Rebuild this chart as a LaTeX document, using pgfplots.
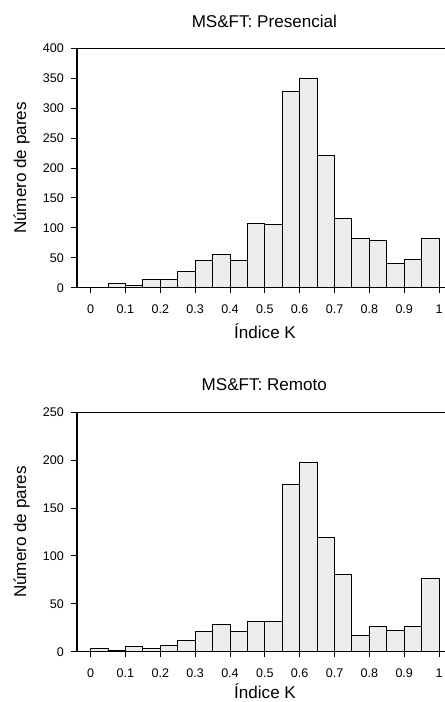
\documentclass[border=0pt]{standalone}
\usepackage{fontspec}
\setmainfont{Liberation Sans}
\usepackage{pgfplots}
\pgfplotsset{compat=1.18}
\definecolor{barfill}{RGB}{236,237,238}

% common look of both histograms
\pgfplotsset{
  kplot/.style={
    scale only axis, width=276pt, height=179.6pt,
    anchor=north west,
    xmin=-0.039, xmax=1.017, ymin=0,
    axis lines=left, axis line style={-, line width=0.8pt, black},
    tick align=outside, major tick length=4.3pt,
    tick style={line width=0.7pt, black},
    xtick={0,0.1,0.2,0.3,0.4,0.5,0.6,0.7,0.8,0.9,1},
    xticklabels={0,0.1,0.2,0.3,0.4,0.5,0.6,0.7,0.8,0.9,1},
    xticklabel shift=5pt, yticklabel shift=2pt,
    tick label style={font=\fontsize{9.4}{11}\selectfont},
    /pgf/number format/assume math mode=true,
    label style={font=\fontsize{12.8}{15}\selectfont},
    title style={font=\fontsize{12.8}{15}\selectfont, anchor=center, yshift=-6pt},
    xlabel={Índice K}, ylabel={Número de pares},
    xlabel style={at={(axis description cs:0.511,-0.1795)}, anchor=center},
    ylabel style={at={(axis description cs:-0.1503,0.5)}, anchor=center},
  },
  kbars/.style={ybar interval, fill=barfill, draw=black, line width=0.7pt},
}

\begin{document}
\begin{tikzpicture}
\begin{axis}[kplot, at={(57.75pt,-36.2pt)},
  ymax=400, ytick={0,50,...,400},
  title={MS\&FT: Presencial},
  title style={at={(axis description cs:0.509,1.111)}},
]
\addplot[kbars] coordinates {
  (0,0) (0.05,7) (0.1,4) (0.15,14) (0.2,13) (0.25,27) (0.3,45) (0.35,55)
  (0.4,45) (0.45,108) (0.5,106) (0.55,328) (0.6,350) (0.65,221) (0.7,116)
  (0.75,83) (0.8,79) (0.85,40) (0.9,47) (0.95,82) (1,82)
};
\draw[line width=0.8pt] (rel axis cs:0,1) -- (rel axis cs:1,1);
\end{axis}

\begin{axis}[kplot, at={(57.75pt,-309.2pt)},
  ymax=250, ytick={0,50,...,250},
  title={MS\&FT: Remoto},
  title style={at={(axis description cs:0.509,1.114)}},
  xlabel style={at={(axis description cs:0.511,-0.166)}},
]
\addplot[kbars] coordinates {
  (0,3) (0.05,1) (0.1,5) (0.15,3) (0.2,7) (0.25,12) (0.3,21) (0.35,28)
  (0.4,21) (0.45,32) (0.5,32) (0.55,175) (0.6,198) (0.65,119) (0.7,81)
  (0.75,17) (0.8,26) (0.85,22) (0.9,26) (0.95,77) (1,77)
};
\draw[line width=0.8pt] (rel axis cs:0,1) -- (rel axis cs:1,1);
\end{axis}

\pgfresetboundingbox
\useasboundingbox (0,0) rectangle (333.75pt,-526.5pt);
\end{tikzpicture}
\end{document}
